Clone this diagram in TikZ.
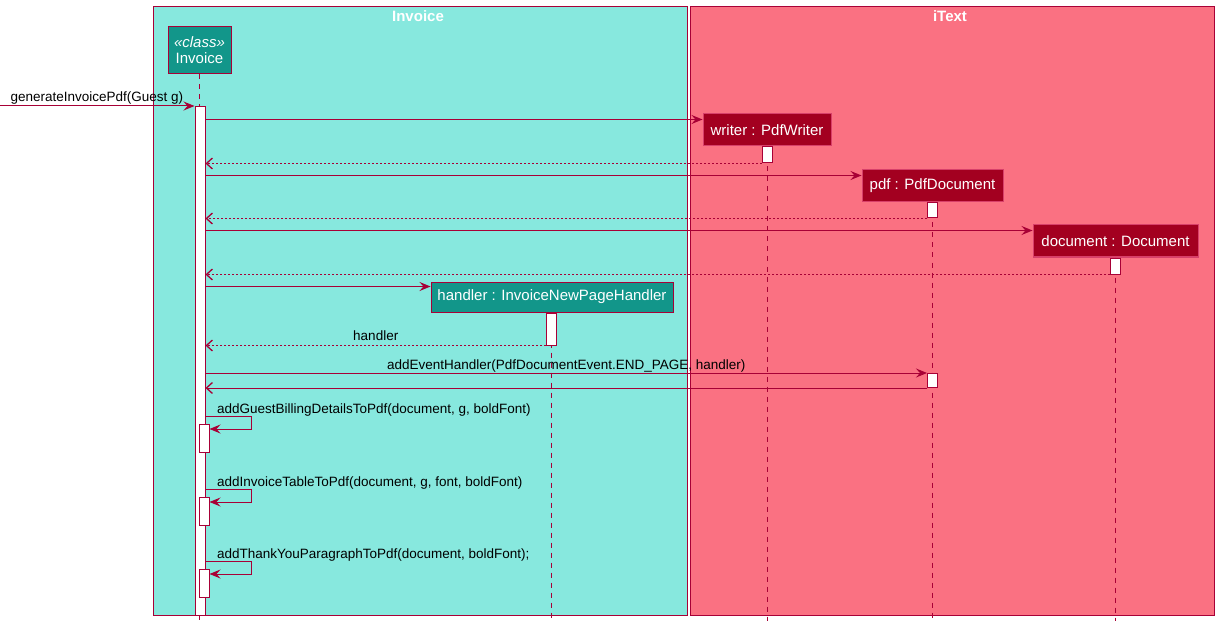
\documentclass[tikz,border=0pt]{standalone}
\usepackage{fontspec}
\setmainfont{Liberation Sans}
\usetikzlibrary{arrows.meta}
\definecolor{crim}{HTML}{A80036}
\definecolor{invbg}{HTML}{87E8DE}
\definecolor{itbg}{HTML}{FA7182}
\definecolor{objred}{HTML}{A30020}
\definecolor{objborder}{HTML}{D8406A}
\definecolor{tealobj}{HTML}{12968A}
\tikzset{
  lane/.style={draw=crim, line width=1pt, anchor=north west, inner sep=0pt},
  lanetitle/.style={text=white, font=\bfseries\fontsize{15}{17}\selectfont, inner sep=0pt},
  objbox/.style={fill=objred, draw=objborder, line width=1pt, text=white,
    font=\fontsize{15}{17}\selectfont, minimum height=32pt, inner sep=0pt},
  tealbox/.style={objbox, fill=tealobj, draw=crim},
  actbar/.style={fill=white, draw=crim, line width=1pt, minimum width=10pt, inner sep=0pt, anchor=north},
  msg/.style={draw=crim, line width=1pt, -{Stealth[length=11pt,width=9pt,inset=4pt]}},
  retmsg/.style={draw=crim, line width=1pt, dash pattern=on 2pt off 2pt,
    -{Straight Barb[length=6pt,width=11pt,line width=1.3pt]}},
  retsolid/.style={draw=crim, line width=1pt, -{Straight Barb[length=6pt,width=11pt,line width=1.3pt]}},
  lifeline/.style={draw=crim, line width=1pt, dash pattern=on 5pt off 5pt},
  lbl/.style={font=\fontsize{13.5}{15}\selectfont, text=black, inner sep=0pt}
}
\begin{document}
\begin{tikzpicture}[x=1pt,y=-1pt]
\useasboundingbox (0,0) rectangle (1217,628);
% lanes
\node[lane, fill=invbg, minimum width=534pt, minimum height=609pt] (laneInv) at (153,6) {};
\node[lane, fill=itbg, minimum width=524pt, minimum height=609pt] (laneIt) at (689.5,6) {};
\node[lanetitle] (tInv) at (418,16) {Invoice};
\node[lanetitle] (tIt) at (950,16) {iText};
% participants
\node[tealbox, minimum width=63pt, minimum height=47pt, align=center] (cInv) at (199.5,50.5)
  {\textit{«class»}\\[-1pt]Invoice};
\node[objbox, minimum width=128pt] (writer) at (767,130) {writer : PdfWriter};
\node[objbox, minimum width=141pt] (pdf) at (932.5,186) {pdf : PdfDocument};
\node[objbox, minimum width=165pt] (document) at (1115.5,241) {document : Document};
\node[tealbox, minimum width=242pt, minimum height=30pt] (handler) at (552,297) {handler : InvoiceNewPageHandler};
% lifelines
\coordinate (bottom) at (0,621);
\draw[lifeline] (cInv.south) -- (cInv.south |- bottom);
\draw[lifeline] (writer.south) -- (writer.south |- bottom);
\draw[lifeline] (pdf.south) -- (pdf.south |- bottom);
\draw[lifeline] (document.south) -- (document.south |- bottom);
\draw[lifeline] ([xshift=-1pt]handler.south) -- ([xshift=-1pt]handler.south |- bottom);
% activation bars
\coordinate (mainTop) at (200,106);
\node[actbar, minimum height=509pt] (actMain) at (mainTop) {};
\node[actbar, minimum height=16pt] (wAct) at (writer.south) {};
\node[actbar, minimum height=15pt] (pAct) at (pdf.south) {};
\node[actbar, minimum height=16pt] (dAct) at (document.south) {};
\node[actbar, minimum height=32pt] (hAct) at ([xshift=-0.5pt]handler.south) {};
\coordinate (ev) at (0,373);
\node[actbar, minimum height=14pt] (pAct2) at (pdf.south |- ev) {};
\coordinate (s1) at (204,424);
\coordinate (s2) at (204,497);
\coordinate (s3) at (204,569);
\node[actbar, minimum height=28pt] (s1Act) at (s1) {};
\node[actbar, minimum height=28pt] (s2Act) at (s2) {};
\node[actbar, minimum height=28pt] (s3Act) at (s3) {};
% incoming
\coordinate (inSrc) at (0,106);
\draw[msg] (inSrc) -- (actMain.north west)
  node[lbl, pos=0, anchor=base west, xshift=10pt, yshift=4pt] {generateInvoicePdf(Guest g)};
% creation messages
\coordinate (m1) at ([yshift=-6pt]writer.north west);
\draw[msg] (actMain.east |- m1) -- (m1);
\draw[retmsg] (wAct.south west) -- (actMain.east |- wAct.south west);
\coordinate (m2) at ([yshift=-6pt]pdf.north west);
\draw[msg] (actMain.east |- m2) -- (m2);
\draw[retmsg] (pAct.south west) -- (actMain.east |- pAct.south west);
\coordinate (m3) at ([yshift=-6pt]document.north west);
\draw[msg] (actMain.east |- m3) -- (m3);
\draw[retmsg] (dAct.south west) -- (actMain.east |- dAct.south west);
\coordinate (m4) at ([yshift=-5pt]handler.north west);
\draw[msg] (actMain.east |- m4) -- (m4);
\draw[retmsg] (hAct.south west) -- (actMain.east |- hAct.south west)
  node[lbl, pos=0.5, anchor=base, yshift=5pt] {handler};
% addEventHandler
\draw[msg] (actMain.east |- pAct2.north west) -- (pAct2.north west)
  node[lbl, pos=0.5, anchor=base, yshift=4pt] {addEventHandler(PdfDocumentEvent.END\_PAGE, handler)};
\draw[retsolid] (pAct2.south west) -- (actMain.east |- pAct2.south west);
% self messages
\coordinate (s1a) at ([yshift=8pt]s1Act.north east);
\draw[msg] (actMain.east |- s1a)
  node[lbl, anchor=base west, xshift=11pt, yshift=3pt] {addGuestBillingDetailsToPdf(document, g, boldFont)}
  -- ++(46,0) |- ([yshift=-5pt]s1Act.north east);
\coordinate (s2a) at ([yshift=8pt]s2Act.north east);
\draw[msg] (actMain.east |- s2a)
  node[lbl, anchor=base west, xshift=11pt, yshift=3pt] {addInvoiceTableToPdf(document, g, font, boldFont)}
  -- ++(46,0) |- ([yshift=-5pt]s2Act.north east);
\coordinate (s3a) at ([yshift=8pt]s3Act.north east);
\draw[msg] (actMain.east |- s3a)
  node[lbl, anchor=base west, xshift=11pt, yshift=3pt] {addThankYouParagraphToPdf(document, boldFont);}
  -- ++(46,0) |- ([yshift=-5pt]s3Act.north east);
\end{tikzpicture}
\end{document}
